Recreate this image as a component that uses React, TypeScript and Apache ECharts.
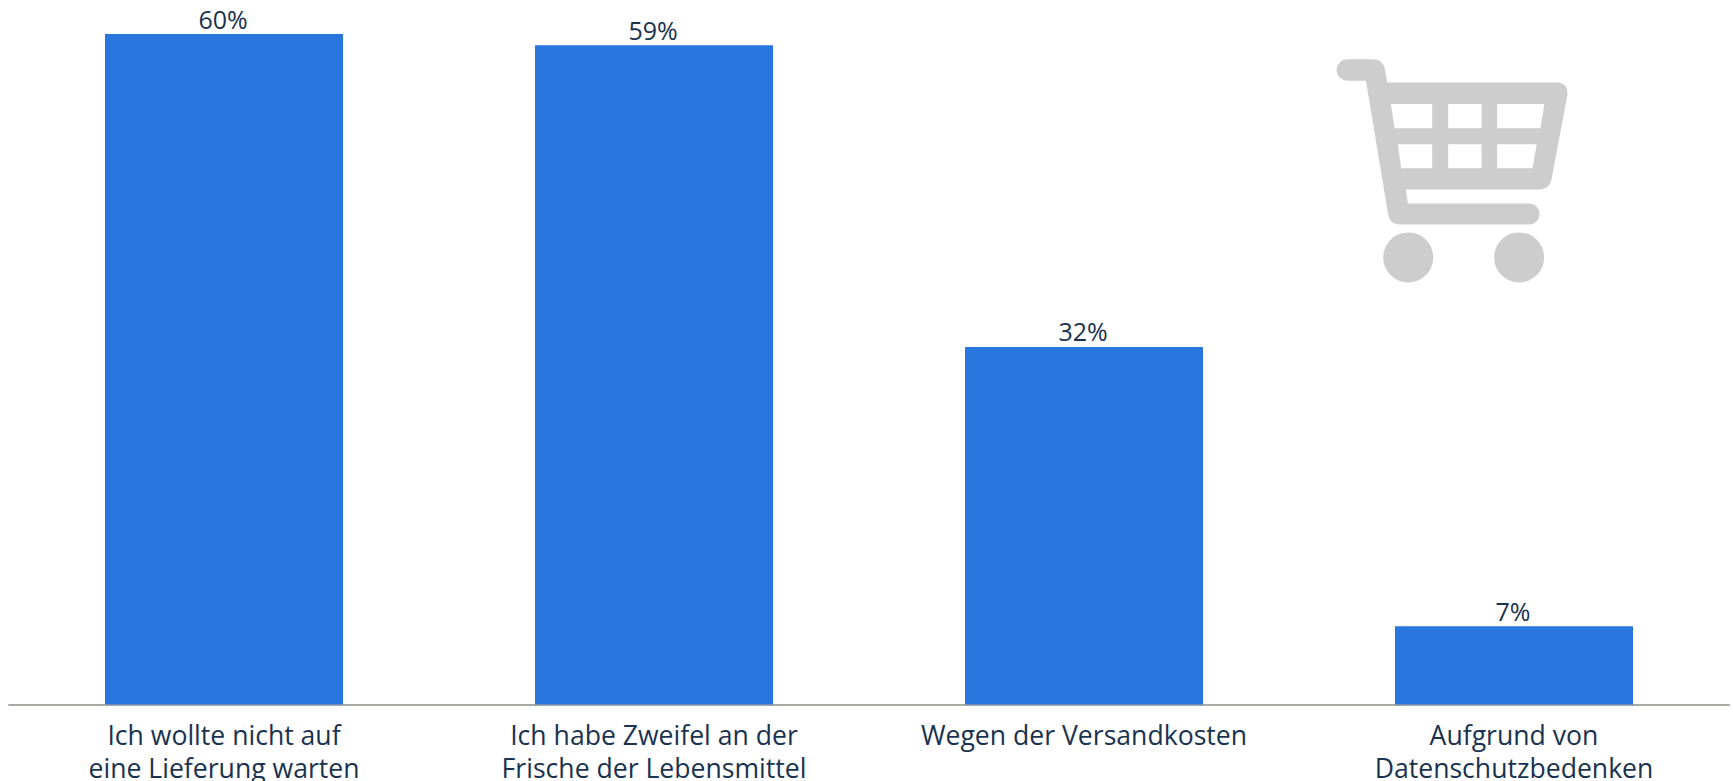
import React, { useEffect, useRef } from "react";
import * as echarts from "echarts";

const categories = [
  "Ich wollte nicht auf\neine Lieferung warten",
  "Ich habe Zweifel an der\nFrische der Lebensmittel",
  "Wegen der Versandkosten",
  "Aufgrund von\nDatenschutzbedenken",
];
const values = [60, 59, 32, 7];

const TEXT = "#1a3350";
const FONT = "'Open Sans', sans-serif";

const cartBody =
  "M142 58 L220 58 Q250 58 256 92 L262 128 L772 128 Q806 128 803 165 L755 420 Q748 449 720 449 L318 449 L324 491 L688 491 A31.5 31.5 0 0 1 688 554 L298 554 Q270 554 265 525 L198 122 L142 122 A32 32 0 0 1 142 58 Z " +
  "M273 192 L284 265 L397 265 L397 192 Z " +
  "M445 192 L445 265 L545 265 L545 192 Z " +
  "M592 192 L592 265 L722 265 L734 192 Z " +
  "M294 313 L304 385 L397 385 L397 313 Z " +
  "M445 313 L445 385 L545 385 L545 313 Z " +
  "M592 313 L592 385 L698 385 L711 313 Z";

echarts.graphic.registerShape("cartBody", echarts.graphic.extendPath(cartBody, {}));

export default function App() {
  const ref = useRef<HTMLDivElement>(null);
  useEffect(() => {
    const chart = echarts.init(ref.current!, null, { renderer: "svg" });
    chart.setOption({
      animation: false,
      backgroundColor: "#ffffff",
      grid: { left: 9, right: 4, top: 34, bottom: 76.5, containLabel: false, outerBoundsMode: "none" },
      xAxis: {
        type: "category",
        data: categories,
        axisTick: { show: false },
        axisLine: { show: true, lineStyle: { color: "#a9a9a4", width: 2 } },
        axisLabel: {
          interval: 0,
          color: TEXT,
          fontFamily: FONT,
          fontSize: 26.6,
          lineHeight: 33,
          margin: 13.5,
          verticalAlign: "top",
          hideOverlap: false,
        },
      },
      yAxis: { type: "value", min: 0, max: 60, show: false, splitLine: { show: false } },
      series: [
        {
          type: "bar",
          data: values,
          barWidth: 238,
          itemStyle: { color: "#2a76df" },
          label: {
            show: true,
            position: "top",
            distance: 3,
            offset: [-1, 0],
            formatter: "{c}%",
            color: TEXT,
            fontFamily: FONT,
            fontSize: 25,
          },
        },
      ],
      graphic: [
        {
          type: "group",
          x: 1300,
          y: 40,
          scaleX: 1 / 3,
          scaleY: 1 / 3,
          silent: true,
          children: [
            { type: "cartBody", style: { fill: "#cdcdcd" } },
            { type: "circle", shape: { cx: 325, cy: 653, r: 75 }, style: { fill: "#cdcdcd" } },
            { type: "circle", shape: { cx: 658, cy: 653, r: 75 }, style: { fill: "#cdcdcd" } },
          ],
        },
      ],
    });
    return () => chart.dispose();
  }, []);
  return (
    <div
      ref={ref}
      style={{ position: "fixed", left: 0, top: 0, width: 1733, height: 781, overflow: "hidden" }}
    />
  );
}
